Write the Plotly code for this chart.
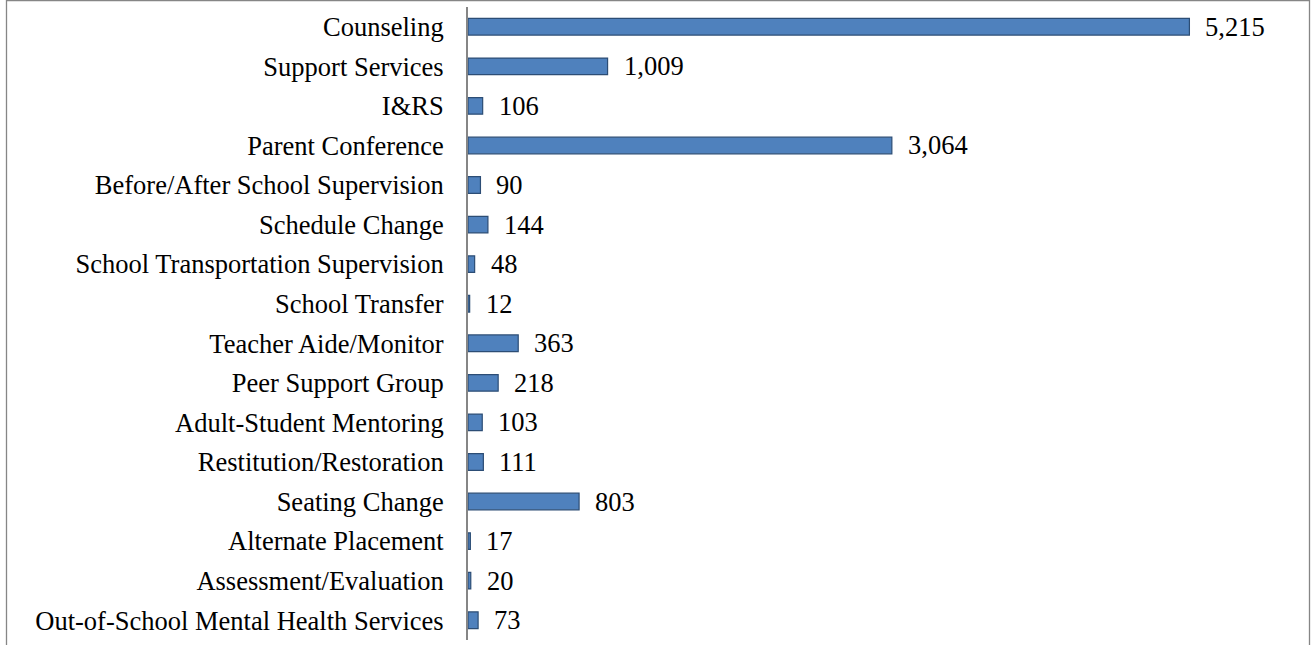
import plotly.graph_objects as go

categories = [
    "Counseling", "Support Services", "I&RS", "Parent Conference",
    "Before/After School Supervision", "Schedule Change",
    "School Transportation Supervision", "School Transfer",
    "Teacher Aide/Monitor", "Peer Support Group", "Adult-Student Mentoring",
    "Restitution/Restoration", "Seating Change", "Alternate Placement",
    "Assessment/Evaluation", "Out-of-School Mental Health Services",
]
values = [5215, 1009, 106, 3064, 90, 144, 48, 12, 363, 218, 103, 111, 803, 17, 20, 73]

W, H = 1311, 645
L, R, T, B = 468, 13, 7, 5
FONT = "Liberation Serif, Times New Roman, serif"
FS = 26.5

fig = go.Figure(go.Bar(
    x=values, y=categories, orientation="h",
    marker=dict(color="#4F81BD", line=dict(color="#2C4D75", width=1.2)),
    width=0.42,
    hoverinfo="skip",
))

for c, v in zip(categories, values):
    fig.add_annotation(x=v, y=c, text=f"{v:,}", showarrow=False,
                       xanchor="left", xshift=14, yshift=0,
                       font=dict(family=FONT, size=FS, color="black"))

pw = W - L - R
ph = H - T - B
def px2x(p):
    return (p - L) / pw
def py2y(p):
    return 1 - (p - T) / ph

fig.add_shape(type="rect", xref="paper", yref="paper",
              x0=px2x(6.5), x1=px2x(1309.5), y0=py2y(660), y1=py2y(0.5),
              line=dict(color="#868686", width=1.3), fillcolor="rgba(0,0,0,0)",
              layer="below")

fig.update_layout(
    width=W, height=H,
    margin=dict(l=L, r=R, t=T, b=B, pad=0),
    plot_bgcolor="white", paper_bgcolor="white",
    showlegend=False,
    font=dict(family=FONT, size=FS, color="black"),
    xaxis=dict(range=[0, 6000], visible=False, fixedrange=True),
    yaxis=dict(autorange="reversed", showline=True, linecolor="#868686", linewidth=2,
               ticks="", showgrid=False, zeroline=False, ticklabelstandoff=17,
               fixedrange=True,
               tickfont=dict(family=FONT, size=FS, color="black")),
)

fig.write_html("out.html", config={"displayModeBar": False},
               post_script="document.body.style.margin='0';")
